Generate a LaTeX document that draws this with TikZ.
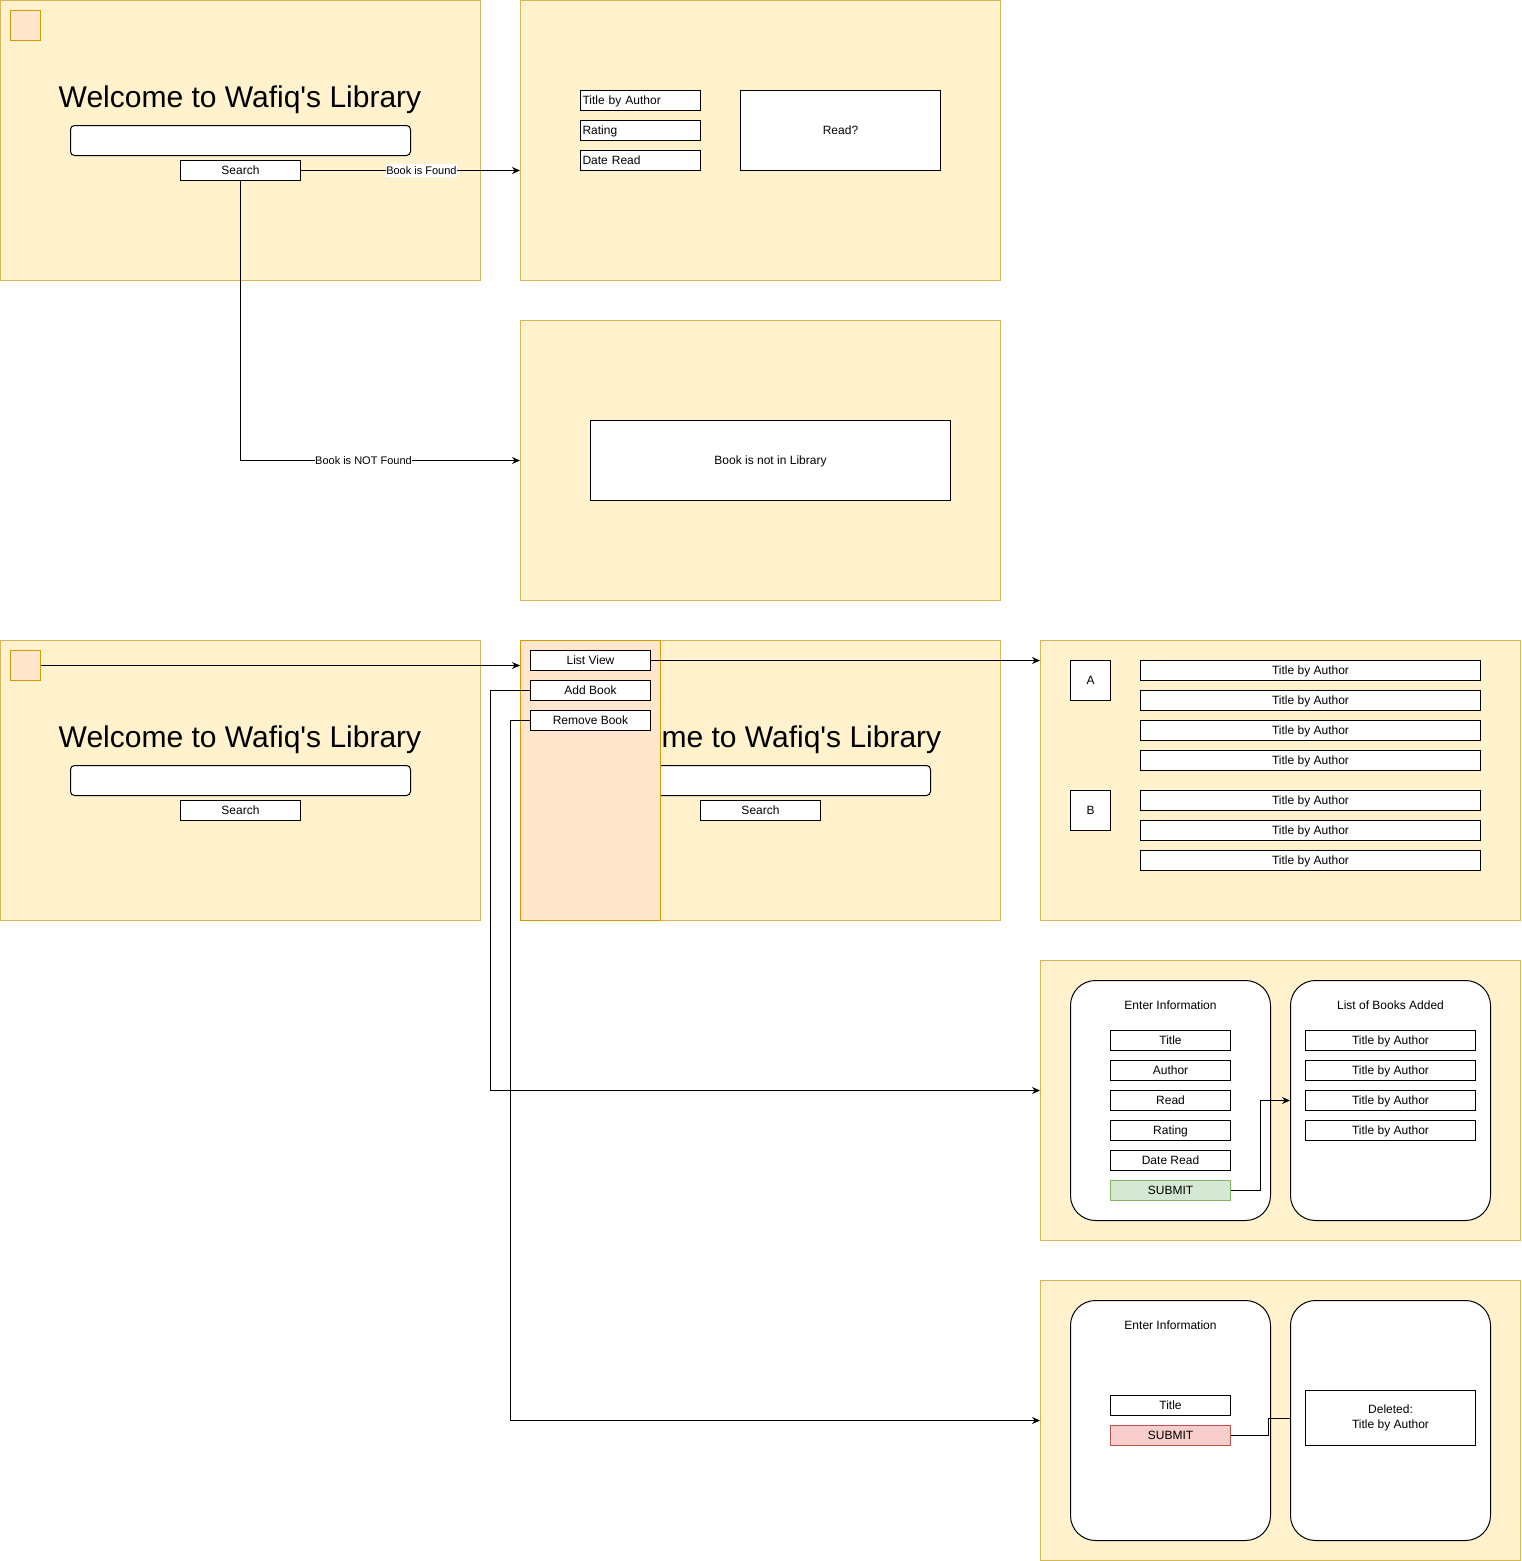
\documentclass[tikz,border=0pt]{standalone}
\usepackage{fontspec}
\setmainfont{Liberation Sans}
\usetikzlibrary{arrows.meta}
\definecolor{frfill}{HTML}{FFF2CC}
\definecolor{frdraw}{HTML}{D6B656}
\definecolor{orfill}{HTML}{FFE6CC}
\definecolor{ordraw}{HTML}{D79B00}
\definecolor{grfill}{HTML}{D5E8D4}
\definecolor{grdraw}{HTML}{82B366}
\definecolor{rdfill}{HTML}{F8CECC}
\definecolor{rddraw}{HTML}{B85450}
\tikzset{
  frame/.style={draw=frdraw, fill=frfill, line width=1pt, inner sep=0pt},
  orbox/.style={draw=ordraw, fill=orfill, line width=1pt, inner sep=0pt},
  boxm/.style={draw=black, fill=white, line width=1pt, inner sep=0pt, font=\fontsize{12}{14}\selectfont},
  field/.style={boxm, text height=10.9pt, text depth=2.5pt},
  lfield/.style={field, text width=116pt, inner xsep=2pt, align=left, minimum width=120pt, minimum height=20pt},
  bar/.style={draw=black, fill=white, line width=1pt, rounded corners=4pt, inner sep=0pt},
  panel/.style={draw=black, fill=white, line width=1pt, rounded corners=25pt, inner sep=0pt, minimum width=200pt, minimum height=240pt},
  title/.style={font=\fontsize{30}{36}\selectfont, inner sep=0pt, anchor=base},
  plain/.style={font=\fontsize{12}{14}\selectfont, inner sep=0pt, text height=10.9pt, text depth=2.5pt},
  lbl/.style={fill=white, font=\fontsize{11}{13}\selectfont, inner sep=0.5pt, text height=10pt, text depth=2.3pt},
  conn/.style={line width=1pt, -{Stealth[length=8pt,width=7pt]}},
  line/.style={line width=1pt}
}
\begin{document}
\begin{tikzpicture}[x=1pt,y=-1pt]
\useasboundingbox (0,0) rectangle (1522,1561);
% ---------- frames ----------
\node[frame, minimum width=480, minimum height=280] (f1) at (240.5,140.5) {};
\node[frame, minimum width=480, minimum height=280] (f2) at (760.5,140.5) {};
\node[frame, minimum width=480, minimum height=280] (f3) at (760.5,460.5) {};
\node[frame, minimum width=480, minimum height=280] (f4) at (240.5,780.5) {};
\node[frame, minimum width=480, minimum height=280] (f5) at (760.5,780.5) {};
\node[frame, minimum width=480, minimum height=280] (f6) at (1280.5,780.5) {};
\node[frame, minimum width=480, minimum height=280] (f7) at (1280.5,1100.5) {};
\node[frame, minimum width=480, minimum height=280] (f8) at (1280.5,1420.5) {};
% ---------- frame 1 ----------
\node[orbox, minimum width=30, minimum height=30] (sq1) at (25.5,25.5) {};
\node[title] (t1) at (240,107.5) {Welcome to Wafiq\textquotesingle s Library};
\node[bar, minimum width=340, minimum height=30] (bar1) at (240.5,140.5) {};
\node[field, minimum width=120, minimum height=20] (s1) at (240.5,170.5) {Search};
% ---------- frame 2 ----------
\node[lfield] (tba) at (640.5,100.5) {Title by Author};
\node[lfield] (rat) at (640.5,130.5) {Rating};
\node[lfield] (dr) at (640.5,160.5) {Date Read};
\node[field, minimum width=200, minimum height=80] (rq) at (840.5,130.5) {Read?};
% ---------- frame 3 ----------
\node[field, minimum width=360, minimum height=80] (nf) at (770.5,460.5) {Book is not in Library};
% ---------- frame 4 ----------
\node[orbox, minimum width=30, minimum height=30] (sq4) at (25.5,665.5) {};
\node[title] (t4) at (240,747.5) {Welcome to Wafiq\textquotesingle s Library};
\node[bar, minimum width=340, minimum height=30] (bar4) at (240.5,780.5) {};
\node[field, minimum width=120, minimum height=20] (s4) at (240.5,810.5) {Search};
% ---------- frame 5 ----------
\node[title] (t5) at (760,747.5) {Welcome to Wafiq\textquotesingle s Library};
\node[bar, minimum width=340, minimum height=30] (bar5) at (760.5,780.5) {};
\node[field, minimum width=120, minimum height=20] (s5) at (760.5,810.5) {Search};
\node[orbox, minimum width=140, minimum height=280] (side) at (590.5,780.5) {};
\node[field, minimum width=120, minimum height=20] (lv) at (590.5,660.5) {List View};
\node[field, minimum width=120, minimum height=20] (ab) at (590.5,690.5) {Add Book};
\node[field, minimum width=120, minimum height=20] (rb) at (590.5,720.5) {Remove Book};
% ---------- frame 6 ----------
\node[field, minimum width=40, minimum height=40] (la) at (1090.5,680.5) {A};
\node[field, minimum width=40, minimum height=40] (lb) at (1090.5,810.5) {B};
\foreach \i/\y in {1/670.5,2/700.5,3/730.5,4/760.5,5/800.5,6/830.5,7/860.5}
  \node[field, minimum width=340, minimum height=20] (lt\i) at (1310.5,\y) {Title by Author};
% ---------- frame 7 ----------
\node[panel] (p7a) at (1170.5,1100.5) {};
\node[panel] (p7b) at (1390.5,1100.5) {};
\node[plain] (ei7) at (1170.5,1005) {Enter Information};
\node[plain] (lba) at (1390.5,1005) {List of Books Added};
\node[field, minimum width=120, minimum height=20] (ft) at (1170.5,1040.5) {Title};
\node[field, minimum width=120, minimum height=20] (fa) at (1170.5,1070.5) {Author};
\node[field, minimum width=120, minimum height=20] (fr) at (1170.5,1100.5) {Read};
\node[field, minimum width=120, minimum height=20] (fg) at (1170.5,1130.5) {Rating};
\node[field, minimum width=120, minimum height=20] (fd) at (1170.5,1160.5) {Date Read};
\node[field, draw=grdraw, fill=grfill, minimum width=120, minimum height=20] (sub7) at (1170.5,1190.5) {SUBMIT};
\foreach \i/\y in {1/1040.5,2/1070.5,3/1100.5,4/1130.5}
  \node[field, minimum width=170, minimum height=20] (ba\i) at (1390.5,\y) {Title by Author};
% ---------- frame 8 ----------
\node[panel] (p8a) at (1170.5,1420.5) {};
\node[panel] (p8b) at (1390.5,1420.5) {};
\node[plain] (ei8) at (1170.5,1325) {Enter Information};
\node[field, minimum width=120, minimum height=20] (rt) at (1170.5,1405.5) {Title};
\node[field, draw=rddraw, fill=rdfill, minimum width=120, minimum height=20] (sub8) at (1170.5,1435.5) {SUBMIT};
\node[boxm, minimum width=170, minimum height=55, align=center, font=\fontsize{12}{15}\selectfont] (del) at (1390.5,1418) {Deleted:\\Title by Author};
% ---------- connectors ----------
\draw[conn] (s1.east) -- node[lbl, pos=0.55] {Book is Found} (s1.east -| f2.west);
\draw[conn] (s1.south) |- node[lbl, pos=0.72] {Book is NOT Found} (f3.west);
\draw[conn] (sq4.east) -- (sq4.east -| f5.west);
\draw[conn] (lv.east) -- (lv.east -| f6.west);
\coordinate (abk) at (490.5,690.5);
\coordinate (rbk) at (510.5,720.5);
\draw[conn] (ab.west) -- (abk) |- ([yshift=10pt]f7.west);
\draw[conn] (rb.west) -- (rbk) |- (f8.west);
\coordinate (s7k) at (1260.5,1190.5);
\draw[conn] (sub7.east) -- (s7k) |- (ba3.west -| p7b.west);
\coordinate (s8k) at (1268.5,1435.5);
\draw[line] (sub8.east) -- (s8k) |- (del.west -| p8b.west);
\end{tikzpicture}
\end{document}
